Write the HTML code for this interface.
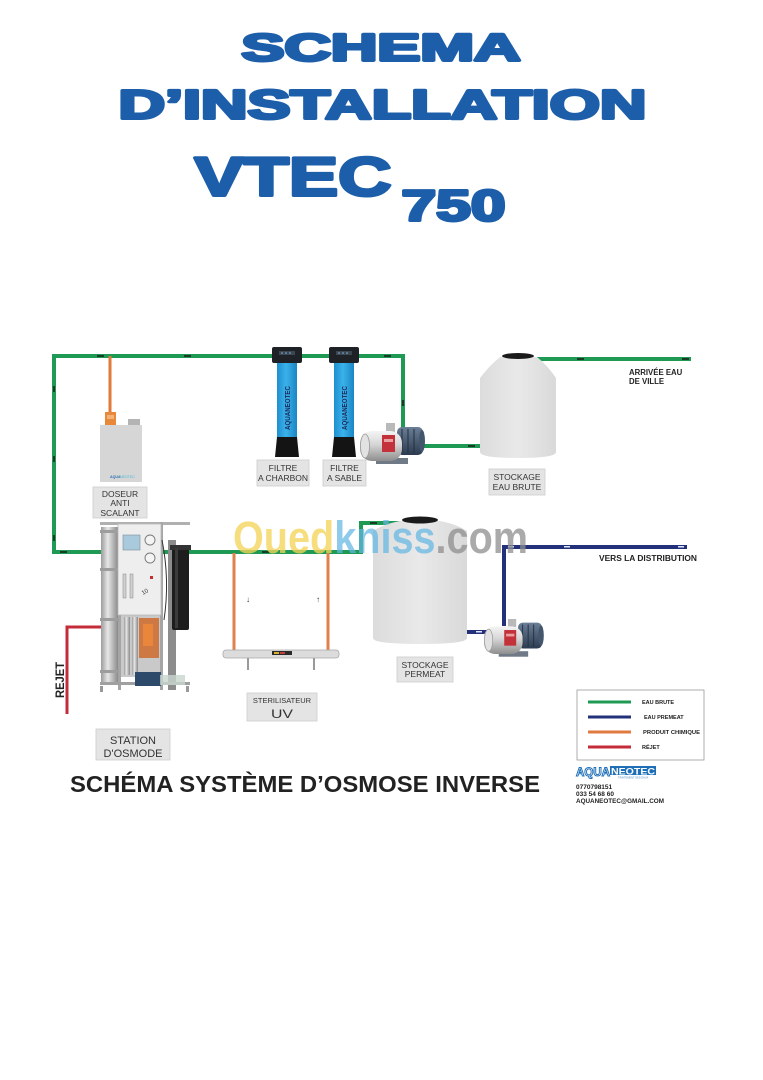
<!DOCTYPE html>
<html>
<head>
<meta charset="utf-8">
<style>
html,body{margin:0;padding:0;background:#fff;}
svg{display:block;}
text{font-family:"Liberation Sans",Arial,sans-serif;}
</style>
</head>
<body>
<svg width="763" height="1080" viewBox="0 0 763 1080" xmlns="http://www.w3.org/2000/svg">
<defs>
  <linearGradient id="steel" x1="0" y1="0" x2="0" y2="1">
    <stop offset="0" stop-color="#f4f4f4"/>
    <stop offset="0.45" stop-color="#d6d6d6"/>
    <stop offset="1" stop-color="#8e8e8e"/>
  </linearGradient>
  <linearGradient id="cyl" x1="0" y1="0" x2="1" y2="0">
    <stop offset="0" stop-color="#9c9c9c"/>
    <stop offset="0.4" stop-color="#e6e6e6"/>
    <stop offset="1" stop-color="#8a8a8a"/>
  </linearGradient>
  <linearGradient id="blueTank" x1="0" y1="0" x2="1" y2="0">
    <stop offset="0" stop-color="#1f8fcf"/>
    <stop offset="0.45" stop-color="#3bb2ea"/>
    <stop offset="1" stop-color="#1a86c4"/>
  </linearGradient>
  <linearGradient id="tankG" x1="0" y1="0" x2="1" y2="0">
    <stop offset="0" stop-color="#dcdcdc"/>
    <stop offset="0.5" stop-color="#e9e9e9"/>
    <stop offset="1" stop-color="#d9d9d9"/>
  </linearGradient>
  <linearGradient id="motor" x1="0" y1="0" x2="0" y2="1">
    <stop offset="0" stop-color="#6a7e96"/>
    <stop offset="1" stop-color="#2c3b50"/>
  </linearGradient>
  <g id="pump">
    <rect x="16" y="35" width="32" height="6" fill="#6f7a86"/>
    <rect x="26" y="0" width="9" height="9" fill="#b9b9b9"/>
    <rect x="37" y="4" width="26" height="28" rx="5" fill="url(#motor)"/>
    <line x1="42" y1="6" x2="42" y2="30" stroke="#22303f" stroke-width="1"/>
    <line x1="48" y1="6" x2="48" y2="30" stroke="#22303f" stroke-width="1"/>
    <line x1="54" y1="6" x2="54" y2="30" stroke="#22303f" stroke-width="1"/>
    <ellipse cx="62" cy="18" rx="3" ry="11" fill="#44566c"/>
    <rect x="0" y="8" width="42" height="30" rx="12" fill="url(#steel)"/>
    <ellipse cx="5" cy="23" rx="4.5" ry="12" fill="#e2e2e2" stroke="#9a9a9a" stroke-width="0.8"/>
    <rect x="22" y="12" width="13" height="17" fill="#c3313b"/>
    <rect x="24" y="16" width="9" height="3" fill="#e8a0a0"/>
  </g>
</defs>

<!-- ===== TITLE ===== -->
<g fill="#1c5ea9" stroke="#1c5ea9" stroke-width="3" stroke-linejoin="round" font-weight="bold">
  <text x="241.5" y="60.5" font-size="37.7" textLength="279" lengthAdjust="spacingAndGlyphs">SCHEMA</text>
  <text x="118.5" y="118.5" font-size="40.5" textLength="528" lengthAdjust="spacingAndGlyphs">D’INSTALLATION</text>
  <text x="194.5" y="195.5" font-size="54.5" textLength="197" lengthAdjust="spacingAndGlyphs">VTEC</text>
  <text x="401.5" y="220.5" font-size="43.7" textLength="104" lengthAdjust="spacingAndGlyphs">750</text>
</g>

<!-- ===== PIPES ===== -->
<g fill="none" stroke-linecap="butt" stroke-linejoin="miter">
  <path d="M54,552 L54,356 L403,356 L403,446" stroke="#1f9a55" stroke-width="4"/>
  <path d="M415,446 L481,446" stroke="#1f9a55" stroke-width="4"/>
  <path d="M52,552 L361,552 L361,523 L401,523" stroke="#1f9a55" stroke-width="4"/>
  <path d="M535,359 L691,359" stroke="#1f9a55" stroke-width="4"/>
  <path d="M110,356 L110,414" stroke="#e07a3a" stroke-width="3"/>
  <path d="M234,553 L234,651" stroke="#e0804a" stroke-width="3"/>
  <path d="M328,553 L328,651" stroke="#e0804a" stroke-width="3"/>
  <path d="M467,632 L487,632" stroke="#23317a" stroke-width="4"/>
  <path d="M504,626 L504,547 L687,547" stroke="#23317a" stroke-width="4"/>
  <path d="M101,627 L67,627 L67,714" stroke="#c42c3a" stroke-width="3"/>
</g>
<g fill="#1a3b26">
  <rect x="97" y="355" width="7" height="2"/>
  <rect x="184" y="355" width="7" height="2"/>
  <rect x="384" y="355" width="7" height="2"/>
  <rect x="53" y="386" width="2" height="6"/>
  <rect x="53" y="456" width="2" height="6"/>
  <rect x="53" y="535" width="2" height="6"/>
  <rect x="60" y="551" width="7" height="2"/>
  <rect x="262" y="551" width="7" height="2"/>
  <rect x="370" y="522" width="7" height="2"/>
  <rect x="402" y="400" width="2" height="6"/>
  <rect x="468" y="445" width="7" height="2"/>
  <rect x="577" y="358" width="7" height="2"/>
  <rect x="682" y="358" width="7" height="2"/>
</g>
<g fill="#dfe6ff">
  <rect x="508" y="546" width="6" height="1.5"/>
  <rect x="564" y="546" width="6" height="1.5"/>
  <rect x="678" y="546" width="6" height="1.5"/>
  <rect x="476" y="631" width="6" height="1.5"/>
</g>

<!-- ===== DOSEUR ===== -->
<rect x="128" y="419" width="12" height="7" fill="#b4b4b4"/>
<rect x="100" y="425" width="42" height="57" fill="#d6d6d6"/>
<rect x="105" y="412" width="11" height="13" fill="#e8883a"/>
<rect x="107" y="415" width="7" height="4" fill="#f3b27a"/>
<text x="110" y="478" font-size="3.6" fill="#2a6fb0" font-weight="bold">AQUA</text>
<text x="120" y="478" font-size="3.6" fill="#47b8d8">NEOTEC</text>

<!-- ===== FILTERS ===== -->
<g>
  <rect x="272" y="347" width="30" height="16" rx="2" fill="#1e2226"/>
  <rect x="279" y="351" width="16" height="4" fill="#3b4650"/>
  <circle cx="282" cy="353" r="0.8" fill="#7fb6e8"/><circle cx="286" cy="353" r="0.8" fill="#7fb6e8"/><circle cx="290" cy="353" r="0.8" fill="#7fb6e8"/>
  <rect x="277" y="363" width="20" height="75" fill="url(#blueTank)"/>
  <path d="M277,437 L297,437 L299,457 L275,457 Z" fill="#141414"/>
  <text transform="translate(290,430) rotate(-90)" font-size="7" font-weight="bold" fill="#1b2a5c" textLength="44" lengthAdjust="spacingAndGlyphs">AQUANEOTEC</text>

  <rect x="329" y="347" width="30" height="16" rx="2" fill="#1e2226"/>
  <rect x="336" y="351" width="16" height="4" fill="#3b4650"/>
  <circle cx="339" cy="353" r="0.8" fill="#7fb6e8"/><circle cx="343" cy="353" r="0.8" fill="#7fb6e8"/><circle cx="347" cy="353" r="0.8" fill="#7fb6e8"/>
  <rect x="334" y="363" width="20" height="75" fill="url(#blueTank)"/>
  <path d="M334,437 L354,437 L356,457 L332,457 Z" fill="#141414"/>
  <text transform="translate(347,430) rotate(-90)" font-size="7" font-weight="bold" fill="#1b2a5c" textLength="44" lengthAdjust="spacingAndGlyphs">AQUANEOTEC</text>
</g>

<!-- ===== TANK 1 ===== -->
<path d="M500,357 L537,357 Q548,366 556,378 L556,452 Q556,458 518,458 Q480,458 480,452 L480,378 Q489,366 500,357 Z" fill="url(#tankG)"/>
<ellipse cx="518" cy="356" rx="16" ry="3" fill="#1a1a1a"/>

<!-- ===== PUMP 1 ===== -->
<use href="#pump" transform="translate(360,423)"/>

<!-- ===== TANK 2 ===== -->
<path d="M400,521 L440,521 Q456,524 467,531 L467,638 Q467,644 420,644 Q373,644 373,638 L373,531 Q384,524 400,521 Z" fill="url(#tankG)"/>
<ellipse cx="420" cy="520" rx="18" ry="3.5" fill="#1a1a1a"/>

<!-- ===== PUMP 2 ===== -->
<use href="#pump" transform="translate(484,619) scale(0.92)"/>

<!-- ===== UV ===== -->
<rect x="223" y="650" width="116" height="8" rx="3" fill="#dcdcdc" stroke="#a8a8a8" stroke-width="0.8"/>
<rect x="272" y="651" width="20" height="4" fill="#2a2a2a"/>
<rect x="274" y="652" width="5" height="2" fill="#d8b030"/>
<rect x="280" y="652" width="5" height="2" fill="#c04040"/>
<rect x="247" y="658" width="2" height="12" fill="#9a9a9a"/>
<rect x="313" y="658" width="2" height="12" fill="#9a9a9a"/>
<text x="248" y="602" font-size="8" fill="#333" text-anchor="middle">↓</text>
<text x="318" y="602" font-size="8" fill="#333" text-anchor="middle">↑</text>

<!-- ===== RO STATION ===== -->
<g>
  <rect x="100" y="522" width="90" height="3" fill="#b0b0b0"/>
  <rect x="160" y="522" width="3" height="168" fill="#a5a5a5"/>
  <rect x="118" y="612" width="3" height="78" fill="#a5a5a5"/>
  <rect x="168" y="540" width="8" height="150" fill="#8c8c8c"/>
  <rect x="121" y="615" width="39" height="62" fill="#c9c9c9"/>
  <rect x="124" y="617" width="6" height="58" fill="url(#cyl)"/>
  <rect x="132" y="617" width="6" height="58" fill="url(#cyl)"/>
  <rect x="139" y="618" width="20" height="40" fill="#cf6a2c" opacity="0.85"/>
  <rect x="143" y="624" width="10" height="22" fill="#f08a3a" opacity="0.8"/>
  <rect x="101" y="527" width="17" height="155" fill="url(#cyl)"/>
  <rect x="100" y="530" width="19" height="3" fill="#9d9d9d"/>
  <rect x="100" y="568" width="19" height="3" fill="#9d9d9d"/>
  <rect x="100" y="618" width="19" height="3" fill="#9d9d9d"/>
  <rect x="100" y="670" width="19" height="3" fill="#9d9d9d"/>
  <rect x="118" y="524" width="43" height="91" fill="#eeeeee" stroke="#b9b9b9" stroke-width="0.8"/>
  <rect x="123" y="535" width="17" height="15" fill="#a9c9dc" stroke="#7e8f9a" stroke-width="0.6"/>
  <circle cx="150" cy="540" r="5" fill="#f4f4f4" stroke="#777" stroke-width="0.9"/>
  <circle cx="150" cy="558" r="5" fill="#f4f4f4" stroke="#777" stroke-width="0.9"/>
  <rect x="123" y="574" width="3" height="24" fill="#d0d0d0" stroke="#888" stroke-width="0.5"/>
  <rect x="130" y="574" width="3" height="24" fill="#d0d0d0" stroke="#888" stroke-width="0.5"/>
  <rect x="150" y="576" width="3" height="3" fill="#c03030"/>
  <text x="143" y="595" font-size="6" fill="#333" transform="rotate(-30 143 595)">10</text>
  <rect x="172" y="545" width="17" height="85" rx="2" fill="#1d1d1d"/>
  <rect x="170" y="545" width="21" height="5" fill="#333"/>
  <rect x="175" y="548" width="3" height="80" fill="#3a3a3a"/>
  <rect x="100" y="682" width="90" height="3" fill="#a0a0a0"/>
  <rect x="135" y="672" width="26" height="14" fill="#2e4a6a"/>
  <rect x="160" y="675" width="25" height="10" fill="#c9d6cf" opacity="0.8"/>
  <rect x="100" y="686" width="3" height="6" fill="#999"/>
  <rect x="186" y="686" width="3" height="6" fill="#999"/>
  <path d="M162,540 Q170,580 164,620" stroke="#333" stroke-width="1" fill="none"/>
</g>

<!-- ===== WATERMARK ===== -->
<text x="233" y="553" font-size="45" font-weight="bold" textLength="295" lengthAdjust="spacingAndGlyphs"><tspan fill="#f3d35a" fill-opacity="0.78">Oued</tspan><tspan fill="#62b6e2" fill-opacity="0.72">kniss</tspan><tspan fill="#8e8e8e" fill-opacity="0.75">.com</tspan></text>

<!-- ===== LABEL BOXES ===== -->
<g fill="#e4e4e4" stroke="#cdcdcd" stroke-width="0.8">
  <rect x="93" y="487" width="54" height="31"/>
  <rect x="257" y="460" width="52" height="26"/>
  <rect x="323" y="460" width="43" height="26"/>
  <rect x="489" y="469" width="56" height="26"/>
  <rect x="397" y="657" width="56" height="25"/>
  <rect x="247" y="693" width="70" height="28"/>
  <rect x="96" y="729" width="74" height="31"/>
</g>
<g fill="#333" font-size="8.5" text-anchor="middle">
  <text x="120" y="497">DOSEUR</text>
  <text x="120" y="506">ANTI</text>
  <text x="120" y="516">SCALANT</text>
  <text x="283" y="471">FILTRE</text>
  <text x="283" y="481">A CHARBON</text>
  <text x="344.5" y="471">FILTRE</text>
  <text x="344.5" y="481">A SABLE</text>
  <text x="517" y="480">STOCKAGE</text>
  <text x="517" y="490">EAU BRUTE</text>
  <text x="425" y="668">STOCKAGE</text>
  <text x="425" y="677">PERMEAT</text>
  <text x="282" y="703" font-size="7.5">STERILISATEUR</text>
  <text x="133" y="744" font-size="11">STATION</text>
  <text x="133" y="757" font-size="11">D'OSMODE</text>
</g>
<text x="282" y="718" font-size="12" fill="#333" text-anchor="middle" textLength="22" lengthAdjust="spacingAndGlyphs">UV</text>

<!-- ===== SIDE TEXTS ===== -->
<text x="629" y="375" font-size="7.8" font-weight="bold" fill="#222">ARRIVÉE EAU</text>
<text x="629" y="384" font-size="7.8" font-weight="bold" fill="#222">DE VILLE</text>
<text x="599" y="561" font-size="7.8" font-weight="bold" fill="#222" textLength="98" lengthAdjust="spacingAndGlyphs">VERS LA DISTRIBUTION</text>
<text transform="translate(64,698) rotate(-90)" font-size="12" font-weight="bold" fill="#222" textLength="36" lengthAdjust="spacingAndGlyphs">REJET</text>

<!-- ===== BOTTOM TITLE ===== -->
<text x="70" y="792" font-size="23.5" font-weight="bold" fill="#222" textLength="470" lengthAdjust="spacingAndGlyphs">SCHÉMA SYSTÈME D’OSMOSE INVERSE</text>

<!-- ===== LEGEND ===== -->
<rect x="577" y="690" width="127" height="70" fill="#fff" stroke="#9a9a9a" stroke-width="0.8"/>
<line x1="588" y1="702" x2="631" y2="702" stroke="#1f9a55" stroke-width="3"/>
<line x1="588" y1="717" x2="631" y2="717" stroke="#23317a" stroke-width="3"/>
<line x1="588" y1="732" x2="631" y2="732" stroke="#e07a40" stroke-width="3"/>
<line x1="588" y1="747" x2="631" y2="747" stroke="#c42c3a" stroke-width="3"/>
<g font-size="5.5" font-weight="bold" fill="#222">
  <text x="642" y="704">EAU BRUTE</text>
  <text x="644" y="719">EAU PREMEAT</text>
  <text x="643" y="734" textLength="57" lengthAdjust="spacingAndGlyphs">PRODUIT CHIMIQUE</text>
  <text x="642" y="749">RÉJET</text>
</g>

<!-- ===== LOGO ===== -->
<text x="576" y="776" font-size="12" font-weight="bold" fill="#fff" stroke="#1e6fb8" stroke-width="1" textLength="34" lengthAdjust="spacingAndGlyphs">AQUA</text>
<rect x="610" y="766" width="46" height="9" fill="#1e6fb8"/>
<text x="611" y="774.5" font-size="9.5" font-weight="bold" fill="#fff" textLength="44" lengthAdjust="spacingAndGlyphs">NEOTEC</text>
<text x="618" y="778.5" font-size="2.6" fill="#4a8ac8">TRAITEMENT DES EAUX</text>
<g font-size="6.5" font-weight="bold" fill="#222">
  <text x="576" y="789">0770798151</text>
  <text x="576" y="796">033 54 68 60</text>
  <text x="576" y="803" textLength="88" lengthAdjust="spacingAndGlyphs">AQUANEOTEC@GMAIL.COM</text>
</g>
</svg>
</body>
</html>
